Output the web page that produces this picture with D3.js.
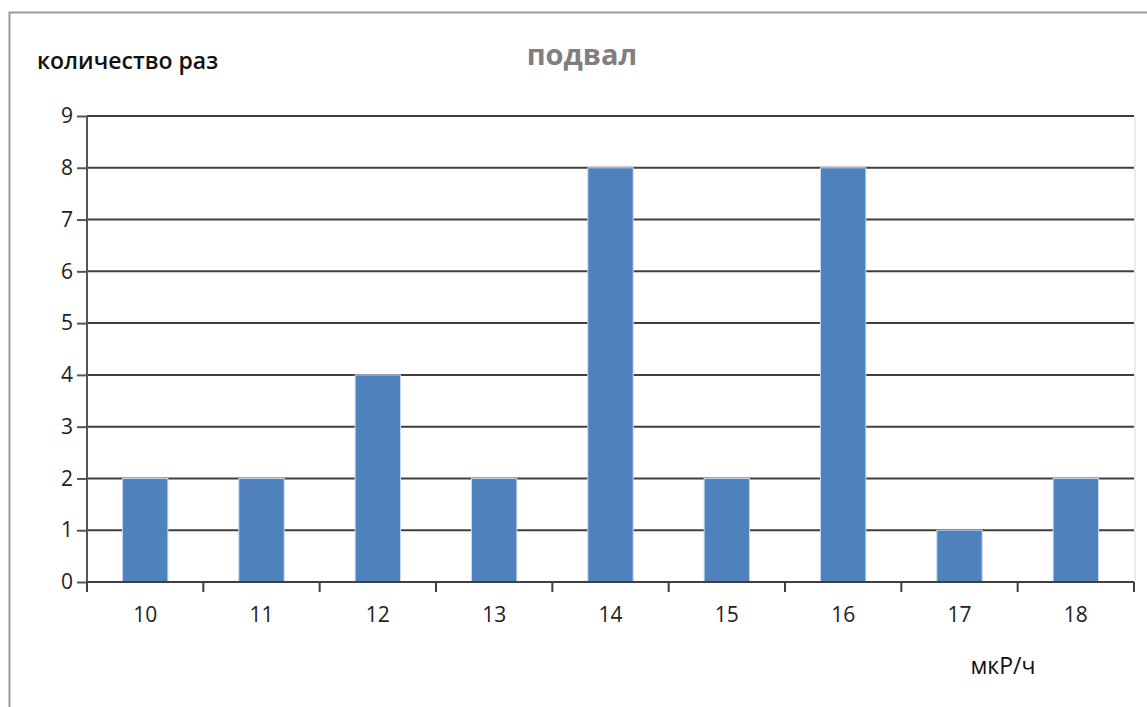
<!DOCTYPE html>
<html>
<head>
<meta charset="utf-8">
<script src="https://cdn.jsdelivr.net/npm/d3@7"></script>
<style>
  html, body { margin: 0; padding: 0; background: #fff; }
  svg { display: block; }
  text { font-family: "Open Sans", "Noto Sans", sans-serif; }
</style>
</head>
<body>
<svg id="chart" width="1147" height="707"></svg>
<script>
// Dose rate readings (мкР/ч) and how many times each was measured
const categories = ["10", "11", "12", "13", "14", "15", "16", "17", "18"];
const counts = [2, 2, 4, 2, 8, 2, 8, 1, 2];
const yTicks = [0, 1, 2, 3, 4, 5, 6, 7, 8, 9];

const titleText = "подвал";
const yLabelText = "количество раз";
const xLabelText = "мкР/ч";

const svg = d3.select("#chart");
const W = 1147, H = 707;
const m = { left: 87, right: 1134, top: 116, bottom: 582 };

// chart frame
svg.append("rect")
  .attr("x", 9.5).attr("y", 12.5)
  .attr("width", W + 20).attr("height", H + 20)
  .attr("fill", "none").attr("stroke", "#9a9a9a").attr("stroke-width", 2);

const x = d3.scaleBand().domain(categories).range([m.left, m.right]).paddingInner(0.61).paddingOuter(0.305);
const xb = d3.scaleBand().domain(categories).range([m.left, m.right]);
const y = d3.scaleLinear().domain([0, 9]).range([m.bottom, m.top]);

// right edge of plot area
svg.append("line")
  .attr("x1", m.right + 1).attr("x2", m.right + 1)
  .attr("y1", m.top).attr("y2", m.bottom)
  .attr("stroke", "#d9d9d9").attr("stroke-width", 1);

// horizontal gridlines
svg.append("g").selectAll("line").data(yTicks.slice(1)).join("line")
  .attr("x1", m.left).attr("x2", m.right)
  .attr("y1", d => y(d)).attr("y2", d => y(d))
  .attr("stroke", "#3f3f3f").attr("stroke-width", 2);

// bars
svg.append("g").selectAll("rect").data(counts).join("rect")
  .attr("x", (d, i) => x(categories[i]))
  .attr("y", d => y(d))
  .attr("width", x.bandwidth())
  .attr("height", d => y(0) - y(d))
  .attr("fill", "#4f81bd")
  .attr("stroke", "#c9d9ee").attr("stroke-width", 1);

// y axis
const yAxis = svg.append("g")
  .attr("transform", `translate(${m.left},0)`)
  .call(d3.axisLeft(y).tickValues(yTicks).tickSize(10).tickPadding(4).tickSizeOuter(0));
yAxis.select(".domain").remove();
yAxis.append("line")
  .attr("x1", 0).attr("x2", 0).attr("y1", m.top).attr("y2", m.bottom + 10)
  .attr("stroke", "#555").attr("stroke-width", 2);
yAxis.selectAll(".tick line").attr("stroke", "#555").attr("stroke-width", 2);
yAxis.selectAll(".tick text")
  .attr("font-size", 21).attr("fill", "#222");

// x axis: ticks at category boundaries
const boundaries = categories.map(c => xb(c)).concat([m.right]);
const xAxis = svg.append("g");
xAxis.append("line")
  .attr("x1", m.left).attr("x2", m.right).attr("y1", m.bottom).attr("y2", m.bottom)
  .attr("stroke", "#3f3f3f").attr("stroke-width", 2);
xAxis.selectAll("line.tk").data(boundaries).join("line").attr("class", "tk")
  .attr("x1", d => d).attr("x2", d => d)
  .attr("y1", m.bottom).attr("y2", m.bottom + 10)
  .attr("stroke", "#3f3f3f").attr("stroke-width", 2);
xAxis.selectAll("text").data(categories).join("text")
  .attr("x", d => xb(d) + xb.bandwidth() / 2)
  .attr("y", 622)
  .attr("text-anchor", "middle")
  .attr("font-size", 21).attr("fill", "#222")
  .text(d => d);

// titles
svg.append("text")
  .attr("x", 582).attr("y", 65)
  .attr("text-anchor", "middle")
  .attr("font-size", 29).attr("font-weight", "bold").attr("fill", "#7f7f7f")
  .text(titleText);

svg.append("text")
  .attr("x", 37).attr("y", 69)
  .attr("font-size", 23).attr("font-weight", 600).attr("fill", "#111")
  .text(yLabelText);

svg.append("text")
  .attr("x", 1003).attr("y", 674)
  .attr("text-anchor", "middle")
  .attr("font-size", 23).attr("font-weight", 500).attr("fill", "#111")
  .text(xLabelText);
</script>
</body>
</html>
